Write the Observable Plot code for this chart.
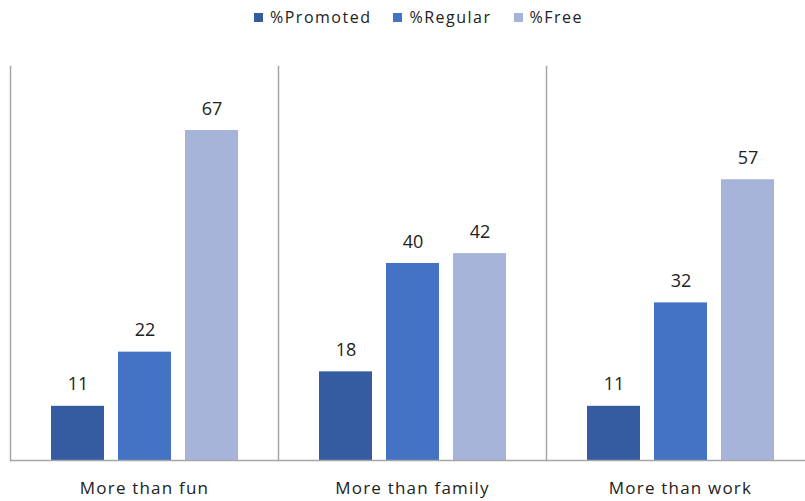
<!DOCTYPE html>
<html><head><meta charset="utf-8">
<script src="https://cdn.jsdelivr.net/npm/d3@7"></script>
<script src="https://cdn.jsdelivr.net/npm/@observablehq/plot@0.6"></script>
<style>
body{margin:0;background:#fff;overflow:hidden;font-family:"Open Sans",sans-serif;}
#wrap{width:805px;overflow:hidden;}
#legend{height:40px;display:flex;justify-content:center;align-items:center;gap:22px;font-size:16px;letter-spacing:1.5px;color:#222;padding-left:32px;box-sizing:border-box;padding-bottom:6px}
#legend span.item{display:flex;align-items:center;gap:7px}
#legend i{display:inline-block;width:9px;height:9px}
</style></head><body>
<div id="wrap"><div id="legend"></div><div id="chart"></div></div>
<script>
const categories = ["More than fun", "More than family", "More than work"];
const series = ["%Promoted", "%Regular", "%Free"];
const promoted = [11, 18, 11];
const regular = [22, 40, 32];
const free = [67, 42, 57];
const colors = ["#355ca0", "#4472c4", "#a6b4da"];

const values = [promoted, regular, free];
const data = [];
categories.forEach((c, i) => series.forEach((s, j) => data.push({category: c, series: s, value: values[j][i]})));

const legend = document.getElementById("legend");
series.forEach((s, j) => {
  const el = document.createElement("span");
  el.className = "item";
  el.innerHTML = `<i style="background:${colors[j]}"></i>${s}`;
  legend.appendChild(el);
});

const chart = Plot.plot({
  width: 814, height: 461,
  marginLeft: 10, marginRight: 0, marginTop: 26, marginBottom: 41,
  style: {fontFamily: "Open Sans, sans-serif", fontSize: "15px", color: "#222", overflow: "visible", maxWidth: "none"},
  fx: {domain: categories, padding: 0, label: null},
  x: {domain: series, paddingInner: 0.21, paddingOuter: 0.6, axis: null},
  y: {domain: [0, 80], axis: null},
  color: {domain: series, range: colors},
  marks: [
    Plot.frame({anchor: "left", stroke: "#a6a6a6", strokeWidth: 1.5}),
    Plot.barY(data, {fx: "category", x: "series", y: "value", fill: "series"}),
    Plot.text(data, {fx: "category", x: "series", y: "value", text: d => String(d.value), lineAnchor: "bottom", dy: -16, fontSize: 18, fill: "#222"}),
    Plot.ruleY([0], {stroke: "#a6a6a6", strokeWidth: 1.5}),
    Plot.axisFx({anchor: "bottom", tickSize: 0, tickPadding: 21, fontSize: 17, label: null})
  ]
});
chart.style.maxWidth = "none";
chart.querySelectorAll("text").forEach(t => {
  if (categories.includes(t.textContent)) t.style.letterSpacing = "1.2px";
});
document.getElementById("chart").appendChild(chart);
</script></body></html>
